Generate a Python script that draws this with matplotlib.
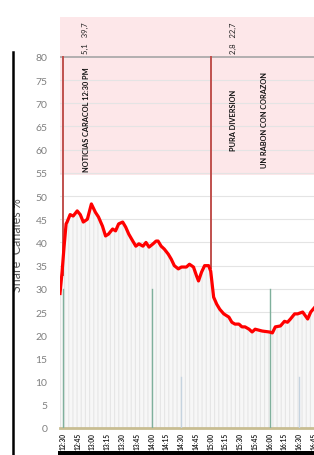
import matplotlib
matplotlib.use("Agg")
import matplotlib.pyplot as plt
from matplotlib.patches import Rectangle
from matplotlib.lines import Line2D


# [1] Data (minutes after 12:30, share %)
minutes = [
    -3.1, -1.0, 1.0, 3.1, 4.1, 7.2, 10.3, 14.4, 17.5, 20.6, 24.7, 28.8,
    32.9, 36.0, 40.1, 43.2, 46.2, 50.4, 53.4, 56.5, 60.6, 63.7, 66.8, 70.9,
    74.0, 77.1, 81.2, 84.3, 87.4, 91.5, 94.6, 96.6, 99.7, 102.8, 106.9,
    110.0, 113.1, 117.2, 120.3, 125.4, 128.5, 132.6, 135.7, 137.7, 140.8,
    143.9, 148.0, 150.1, 153.1, 156.2, 159.3, 163.4, 168.6, 171.6, 174.7,
    178.8, 181.9, 185.0, 189.1, 192.2, 195.3, 202.5, 209.7, 212.8, 215.8,
    221.0, 225.1, 228.2, 231.2, 235.4, 238.4, 243.6, 248.7, 251.8, 257.0,
    259.0,
]
share = [
    29.0, 33.6, 39.0, 44.0, 44.4, 46.0, 45.7, 46.8, 46.0, 44.4, 45.0, 48.3,
    46.5, 45.5, 43.5, 41.4, 41.8, 42.9, 42.5, 44.0, 44.4, 43.3, 41.8, 40.3,
    39.2, 39.7, 39.2, 40.0, 39.0, 39.7, 40.3, 40.3, 39.2, 38.6, 37.5,
    36.4, 35.0, 34.3, 34.7, 34.7, 35.3, 34.7, 32.8, 31.7, 33.6,
    35.0, 35.0, 33.8, 28.2, 26.7, 25.6, 24.6, 23.9, 22.8, 22.4,
    22.4, 21.8, 21.8, 21.3, 20.7, 21.3, 20.9, 20.7, 20.5, 21.8,
    22.0, 23.0, 22.8, 23.5, 24.6, 24.6, 25.0, 23.5, 25.0, 26.3,
    27.0,
]

tick_labels = [
    "12:30", "12:45", "13:00", "13:15", "13:30", "13:45", "14:00", "14:15",
    "14:30", "14:45", "15:00", "15:15", "15:30", "15:45", "16:00", "16:15",
    "16:30", "16:45",
]
tick_minutes = [15 * i for i in range(len(tick_labels))]

# program starts (red), share markers (green / faint)
program_starts = [0, 150]
program_start_share = [33.0, 34.5]
green_marks = [0, 90, 210]
green_height = 30
faint_marks = [120, 240]
faint_height = 11

header_texts = [(22.6, "5,1   39,7"), (173.7, "2,8   22,7")]
program_texts = [
    (23.6, "NOTICIAS CARACOL 12:30 PM"),
    (173.7, "PURA DIVERSION"),
    (204.5, "UN RABON CON CORAZON"),
]


# [2] Figure
plt.rcParams["font.family"] = ["Lato", "DejaVu Sans"]
plt.rcParams["hatch.linewidth"] = 0.8

fig = plt.figure(figsize=(3.14, 4.56), dpi=100)
ax = fig.add_axes([60 / 314, 27 / 456, 1 - 60 / 314 + 0.02, (429 - 18) / 456])

ax.set_xlim(-3.1, 261.5)
ax.set_ylim(0, 88.6)

# pink band and header
ax.axhspan(54.5, 88.6, color="#fde7e9", zorder=0, linewidth=0)
for v in range(5, 80, 5):
    ax.axhline(v, color="#e4e4e4", linewidth=0.8, zorder=1)
ax.axhline(80, color="#a6a6a6", linewidth=1.2, zorder=2)

# striped area under the curve
ax.fill_between(minutes, share, 0, facecolor="#f7f7f7", edgecolor="#e6e6e6",
                hatch="||||", linewidth=0, zorder=2)

for m, top in zip(program_starts, program_start_share):
    ax.plot([m, m], [top, 80], color="#c0504d", linewidth=1.4, zorder=3)
for m in green_marks:
    ax.plot([m, m], [0, green_height], color="#7fb09c", linewidth=1.0, zorder=3)
for m in faint_marks:
    ax.plot([m, m], [0, faint_height], color="#c5d3df", linewidth=1.0, zorder=3)

ax.plot(minutes, share, color="#ff0000", linewidth=2.3, zorder=4)

for m, txt in header_texts:
    ax.text(m, 84.3, txt, rotation=90, ha="center", va="center",
            fontsize=5.5, color="#222222")
for m, txt in program_texts:
    ax.text(m, 66.6, txt, rotation=90, ha="center", va="center",
            fontsize=5.3, color="#111111", fontweight="bold")

# axes styling
ax.set_yticks(range(0, 81, 5))
ax.set_xticks(tick_minutes)
ax.set_xticklabels(tick_labels, rotation=90, fontsize=4.8, fontweight="bold",
                   color="#222222")
ax.tick_params(axis="y", length=0, pad=9, labelsize=7.5, labelcolor="#808080")
ax.tick_params(axis="x", length=0, pad=3)
for side in ["top", "right", "left"]:
    ax.spines[side].set_visible(False)
ax.spines["bottom"].set_color("#c8bd92")
ax.spines["bottom"].set_linewidth(2.0)

# y label, cut by the frame line at the left
fig.text(17 / 314, 1 - 245 / 456, "Share  Canales %", rotation=90,
         ha="center", va="center", fontsize=9, color="#595959")
fig.patches.append(Rectangle((0, 0), 13 / 314, 1, transform=fig.transFigure,
                             facecolor="white", edgecolor="none", zorder=5))
fig.lines.append(Line2D([13 / 314, 13 / 314], [0, 1 - 53 / 456],
                        transform=fig.transFigure, color="black",
                        linewidth=1.8, zorder=6))
fig.patches.append(Rectangle((58 / 314, 0), 1, 4 / 456, transform=fig.transFigure,
                             facecolor="black", edgecolor="none", zorder=6))

fig.savefig("out.png", dpi=100)
